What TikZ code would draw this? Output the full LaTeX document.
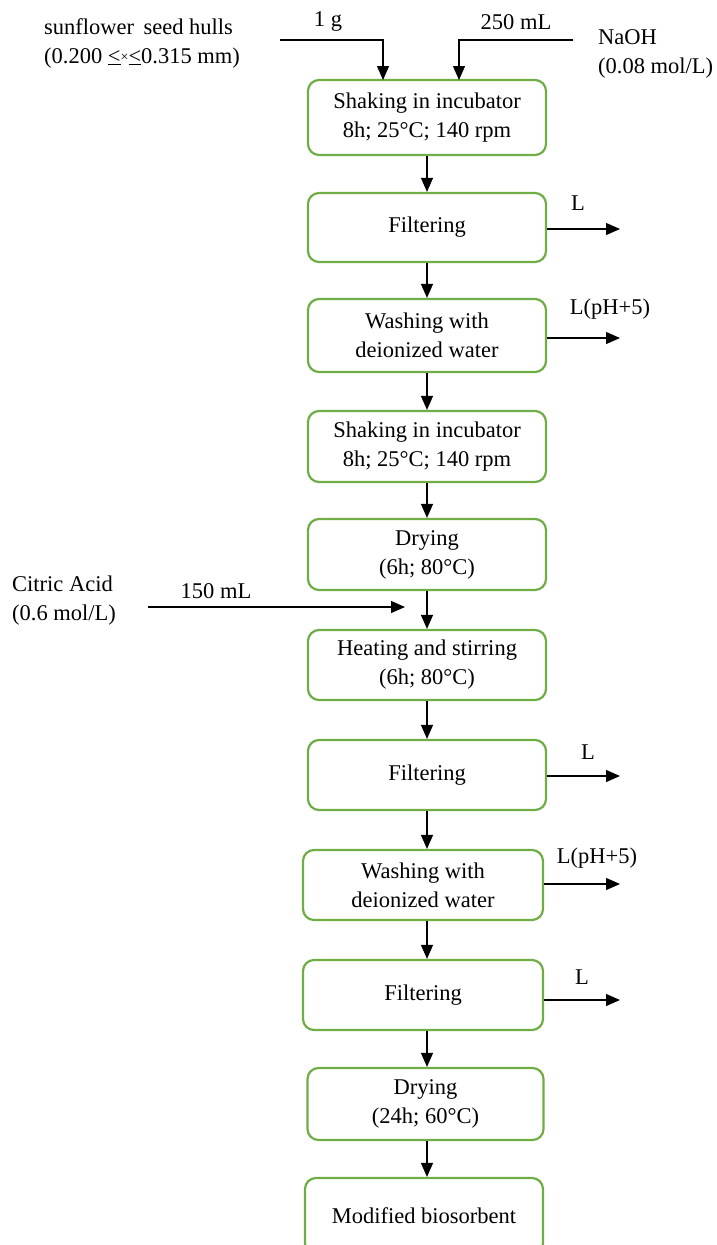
\documentclass[tikz,border=0pt]{standalone}
\usepackage{fontspec}
\setmainfont{Liberation Serif}
\usetikzlibrary{arrows.meta}
\definecolor{procgreen}{RGB}{112,173,71}
\newcommand\flowfont{\fontsize{22.5}{29}\selectfont}
\begin{document}
\begin{tikzpicture}[x=1pt,y=-1pt,
  proc/.style={draw=procgreen, line width=2.2pt, rounded corners=11pt,
    minimum width=238pt, minimum height=72pt, align=center,
    font=\flowfont, inner sep=0pt},
  flow/.style={-{Triangle[length=14pt,width=12pt]}, line width=1.2pt},
  lbl/.style={font=\flowfont, inner sep=0pt, align=left}]
\useasboundingbox (0,0) rectangle (716,1245);
\clip (0,0) rectangle (716,1245);

% process steps
\node[proc, minimum height=75pt] (b1) at (427,117.5) {Shaking in incubator\\8h; 25\textdegree C; 140 rpm};
\node[proc, minimum height=69pt] (b2) at (427,227.5) {Filtering};
\node[proc, minimum height=73pt] (b3) at (427,335.5) {Washing with\\deionized water};
\node[proc, minimum height=71pt] (b4) at (427,446.5) {Shaking in incubator\\8h; 25\textdegree C; 140 rpm};
\node[proc, minimum height=71pt] (b5) at (427,554.5) {Drying\\(6h; 80\textdegree C)};
\node[proc, minimum height=70pt] (b6) at (427,665) {Heating and stirring\\(6h; 80\textdegree C)};
\node[proc, minimum height=70pt] (b7) at (427,775) {Filtering};
\node[proc, minimum height=70pt, minimum width=240pt] (b8) at (423,885) {Washing with\\deionized water};
\node[proc, minimum height=70pt, minimum width=240pt] (b9) at (423,995) {Filtering};
\node[proc, minimum height=72pt, minimum width=236pt] (b10) at (425.5,1104) {Drying\\(24h; 60\textdegree C)};
\node[proc, minimum height=76pt, minimum width=238pt] (b11) at (424,1216) {Modified biosorbent};

% main flow
\draw[flow] (b1.south) -- (b2.north);
\draw[flow] (b2.south) -- (b3.north);
\draw[flow] (b3.south) -- (b4.north);
\draw[flow] (b4.south) -- (b5.north);
\draw[flow] (b5.south) -- (b6.north);
\draw[flow] (b6.south) -- (b7.north -| b6.south);
\draw[flow] (b7.south) -- (b7.south |- b8.north);
\draw[flow] (b7.south |- b8.south) -- (b7.south |- b9.north);
\draw[flow] (b7.south |- b9.south) -- (b7.south |- b10.north);
\draw[flow] (b7.south |- b10.south) -- (b7.south |- b11.north);

% raw materials
\node[lbl, anchor=west] (seed) at (44,43) {sunflower\, seed hulls\\(0.200 \underline{<}\raisebox{2pt}{\fontsize{14}{14}\selectfont\texttimes}\underline{<}0.315 mm)};
\node[lbl] (mass) at (328,22) {1 g};
\node[lbl] (vol) at (516,22) {250 mL};
\node[lbl, anchor=west] (naoh) at (598,54) {NaOH\\(0.08 mol/L)};
\coordinate (s1) at (280,40);
\coordinate (t1) at (383,80);
\coordinate (s2) at (573,40);
\coordinate (t2) at (459,80);
\draw[flow] (s1) -| (t1);
\draw[flow] (s2) -| (t2);

% citric acid feed
\node[lbl, anchor=west] (citric) at (12,601) {Citric Acid\\(0.6 mol/L)};
\node[lbl] (cvol) at (216,591) {150 mL};
\coordinate (c0) at (148,607);
\coordinate (c1) at (405,607);
\draw[flow] (c0) -- (c1);

% liquid outputs
\coordinate (o2) at (620,229);
\coordinate (o3) at (620,338);
\coordinate (o7) at (620,776);
\coordinate (o8) at (620,884);
\coordinate (o9) at (620,1000);
\draw[flow] (b2.east |- o2) -- (o2);
\draw[flow] (b3.east |- o3) -- (o3);
\draw[flow] (b7.east |- o7) -- (o7);
\draw[flow] (b8.east |- o8) -- (o8);
\draw[flow] (b9.east |- o9) -- (o9);
\node[lbl] (l2) at (578,203) {L};
\node[lbl] (l3) at (610,309) {L(pH+5)};
\node[lbl] (l7) at (588,752) {L};
\node[lbl] (l8) at (597,858) {L(pH+5)};
\node[lbl] (l9) at (582,977) {L};
\end{tikzpicture}
\end{document}
